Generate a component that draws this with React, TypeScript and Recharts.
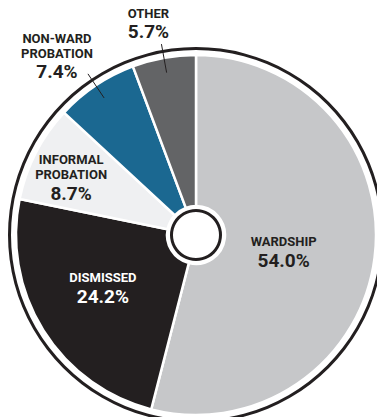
import React from 'react';
import { PieChart, Pie, Cell } from 'recharts';

const categories = ['WARDSHIP', 'DISMISSED', 'INFORMAL PROBATION', 'NON-WARD PROBATION', 'OTHER'];
const shares = [54.0, 24.2, 8.7, 7.4, 5.7];
const colors = ['#c6c7c9', '#231f20', '#eff0f2', '#1b6891', '#636466'];
const textColors = ['#231f20', '#ffffff', '#231f20', '#231f20', '#231f20'];

// label placement per slice: r = fraction of outer radius (inside), or leader line (outside)
const labelStyle: Record<string, { r?: number; outside?: boolean; dx?: number; dy?: number }> = {
  WARDSHIP: { r: 0.53, dx: -7, dy: 8 },
  DISMISSED: { r: 0.61, dx: 0, dy: -3 },
  'INFORMAL PROBATION': { r: 0.73, dx: -8, dy: 5 },
  'NON-WARD PROBATION': { outside: true, dx: -31, dy: -2 },
  OTHER: { outside: true, dx: -13, dy: -13 },
};

const data = categories.map((name, i) => ({ name, value: shares[i] }));

const CX = 191;
const CY = 230;
const R = 180;
const RADIAN = Math.PI / 180;
const FONT = 'Roboto, "Open Sans", sans-serif';
const WORD_SIZE = 13;
const PCT_SIZE = 19;

const renderLabel = (props: any) => {
  const { cx, cy, midAngle, outerRadius, index } = props;
  const name = categories[index];
  const cfg = labelStyle[name];
  const words = name.split(' ');
  const pct = `${shares[index].toFixed(1)}%`;
  const fill = textColors[index];
  const cos = Math.cos(-midAngle * RADIAN);
  const sin = Math.sin(-midAngle * RADIAN);

  if (cfg.outside) {
    const x1 = cx + (outerRadius - 15) * cos;
    const y1 = cy + (outerRadius - 15) * sin;
    const x2 = cx + (outerRadius + 14) * cos;
    const y2 = cy + (outerRadius + 14) * sin;
    const tx = x2 + (cfg.dx || 0);
    const ty = y2 + (cfg.dy || 0);
    const top = ty - (words.length - 1) * 15;
    return (
      <g>
        <line x1={x1} y1={y1} x2={x2} y2={y2} stroke="#231f20" strokeWidth={1} />
        {words.map((w: string, i: number) => (
          <text key={w} x={tx} y={top - 18 + i * 15} textAnchor="middle" dominantBaseline="central"
            fill={fill} fontFamily={FONT} fontWeight={700} fontSize={WORD_SIZE}>{w}</text>
        ))}
        <text x={tx} y={ty} textAnchor="middle" dominantBaseline="central"
          fill={fill} fontFamily={FONT} fontWeight={700} fontSize={PCT_SIZE}>{pct}</text>
      </g>
    );
  }

  const r = outerRadius * (cfg.r || 0.5);
  const x = cx + r * cos + (cfg.dx || 0);
  const y = cy + r * sin + (cfg.dy || 0);
  const n = words.length;
  const top = y - 10 - (n - 1) * 15 / 2 - 3;
  return (
    <g>
      {words.map((w: string, i: number) => (
        <text key={w} x={x} y={top + i * 15} textAnchor="middle" dominantBaseline="central"
          fill={fill} fontFamily={FONT} fontWeight={700} fontSize={WORD_SIZE}>{w}</text>
      ))}
      <text x={x} y={top + n * 15 + 4} textAnchor="middle" dominantBaseline="central"
        fill={fill} fontFamily={FONT} fontWeight={700} fontSize={PCT_SIZE}>{pct}</text>
    </g>
  );
};

export default function App() {
  return (
    <div style={{ position: 'absolute', left: 0, top: 0, background: '#fff' }}>
      <PieChart width={377} height={417}>
        <Pie
          data={[{ value: 1 }]}
          dataKey="value"
          cx={CX}
          cy={CY}
          innerRadius={R + 5}
          outerRadius={R + 8}
          startAngle={90}
          endAngle={-270}
          fill="#231f20"
          stroke="none"
          isAnimationActive={false}
        />
        <Pie
          data={data}
          dataKey="value"
          nameKey="name"
          cx={CX}
          cy={CY}
          innerRadius={29}
          outerRadius={R}
          startAngle={90}
          endAngle={-270}
          stroke="#ffffff"
          strokeWidth={2.5}
          label={renderLabel}
          labelLine={false}
          isAnimationActive={false}
        >
          {data.map((d, i) => (
            <Cell key={d.name} fill={colors[i]} />
          ))}
        </Pie>
        <Pie
          data={[{ value: 1 }]}
          dataKey="value"
          cx={CX}
          cy={CY}
          innerRadius={23}
          outerRadius={26}
          startAngle={90}
          endAngle={-270}
          fill="#231f20"
          stroke="none"
          isAnimationActive={false}
        />
      </PieChart>
    </div>
  );
}
